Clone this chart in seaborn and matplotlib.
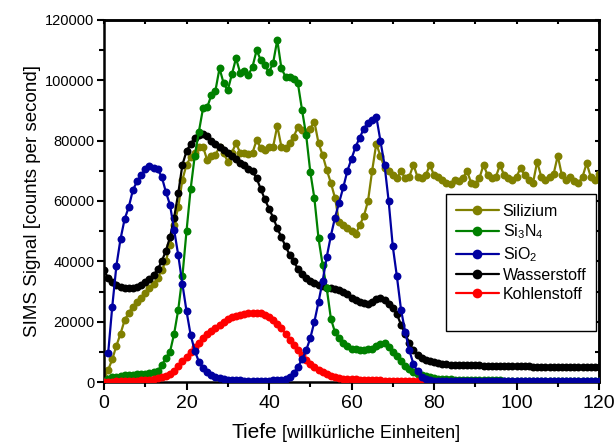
import numpy as np
import pandas as pd
import matplotlib
matplotlib.use('Agg')
import matplotlib.pyplot as plt
from matplotlib.lines import Line2D
import seaborn as sns

# DADOS - SINAL SIMS POR PROFUNDIDADE
tiefe = list(range(121))

silizium = [1800, 4000, 7500, 12000, 16000, 20500, 23000, 25000, 26500, 28000,
            29500, 31000, 32500, 34500, 37000, 40000, 45500, 52000, 58000, 67000,
            72000, 74500, 76000, 78000, 78000, 73600, 75000, 75200, 78000, 76000,
            73000, 76000, 79200, 76000, 75900, 75500, 76000, 80200, 77500, 77000,
            78000, 78000, 84900, 78000, 77500, 79200, 81300, 84600, 83500, 83000,
            84000, 86300, 79200, 75200, 70300, 66000, 61000, 53000, 52000, 51000,
            50000, 49000, 52000, 55000, 60000, 70000, 79000, 75000, 71000, 70000,
            68500, 67500, 70000, 67500, 68000, 72000, 68000, 67500, 68500, 72000,
            68500, 68000, 67000, 66000, 65500, 67000, 66500, 67500, 70000, 66000,
            65500, 67500, 72000, 68500, 67500, 68000, 72000, 68500, 67500, 67000,
            68000, 71000, 68500, 67000, 66000, 73000, 68000, 67000, 68000, 69000,
            75000, 68500, 67000, 68000, 66500, 66000, 68000, 72500, 68000, 67000, 69000]

si3n4 = [500, 1000, 1500, 1800, 2000, 2200, 2300, 2400, 2500, 2600,
         2800, 3000, 3300, 3800, 5500, 8000, 10000, 16000, 24000, 35000,
         50000, 64000, 75000, 83000, 90700, 91000, 95000, 96500, 104000, 99000,
         96700, 102000, 107300, 102500, 103000, 101800, 104500, 110000, 106700, 105000,
         102700, 105800, 113400, 104000, 101200, 101200, 100500, 99000, 90200, 81900,
         69700, 60900, 47600, 38800, 31000, 21000, 16500, 14500, 13000, 12000,
         11000, 10800, 10500, 10500, 10800, 11000, 11800, 12500, 12800, 11500,
         10000, 8500, 6800, 5300, 4200, 3400, 2800, 2300, 1900, 1600,
         1300, 1100, 1000, 900, 850, 800, 750, 700, 700, 650,
         650, 600, 600, 600, 550, 550, 550, 500, 500, 500,
         500, 500, 450, 450, 450, 450, 400, 400, 400, 400,
         400, 400, 350, 350, 350, 350, 350, 300, 300, 300, 300]

sio2 = [np.nan, 9500, 25000, 38500, 47400, 54000, 58000, 63600, 66500, 68500,
        70500, 71500, 71000, 70500, 68000, 63000, 58700, 50400, 42000, 32500,
        23500, 15600, 10400, 6700, 4600, 3200, 2300, 1700, 1300, 1000,
        800, 700, 600, 600, 500, 500, 500, 500, 500, 500,
        500, 600, 700, 800, 1000, 1800, 3000, 5000, 7500, 10500,
        14500, 20000, 26500, 33500, 41500, 48500, 54500, 59500, 64500, 70000,
        74000, 78000, 81000, 84000, 86000, 87000, 88000, 80000, 72000, 60000,
        45000, 35000, 24000, 16700, 10600, 6000, 3500, 1800, 1000, 700,
        500, 500, 500, 500, 500, 450, 450, 450, 450, 450,
        400, 400, 400, 400, 400, 400, 400, 400, 400, 400,
        350, 350, 350, 350, 350, 350, 350, 350, 350, 350,
        300, 300, 300, 300, 300, 300, 300, 300, 300, 300, 300]

wasserstoff = [37000, 34500, 33000, 32000, 31500, 31200, 31000, 31000, 31500, 32200,
               33200, 34200, 35500, 37300, 40000, 43500, 48000, 54500, 62600, 72000,
               76500, 79000, 80800, 82000, 82200, 81500, 80000, 79000, 77800, 77000,
               76000, 75000, 74000, 72500, 71800, 70500, 69800, 67500, 64000, 60500,
               57500, 54500, 51000, 48000, 45000, 42200, 40000, 37500, 35800, 34500,
               33500, 32800, 32300, 31800, 31300, 31000, 30800, 30500, 30000, 29300,
               28000, 27300, 26500, 26200, 26000, 26500, 27500, 27800, 27300, 26000,
               24400, 22500, 19000, 16000, 13000, 10500, 9000, 8000, 7300, 6800,
               6500, 6300, 6100, 6000, 5800, 5700, 5600, 5600, 5600, 5500,
               5500, 5500, 5400, 5400, 5400, 5300, 5300, 5300, 5300, 5200,
               5200, 5200, 5200, 5200, 5100, 5100, 5100, 5100, 5100, 5100,
               5000, 5000, 5000, 5000, 5000, 5000, 5000, 5000, 5000, 5000, 5000]

kohlenstoff = [0, 100, 150, 200, 250, 300, 300, 400, 500, 600,
               700, 800, 900, 1200, 1500, 2000, 2800, 3800, 5200, 6800,
               8400, 10000, 11500, 13000, 14500, 15800, 17000, 18000, 19000, 20000,
               20800, 21400, 21900, 22300, 22600, 22800, 23000, 23000, 22800, 22300,
               21400, 20500, 19200, 17800, 16000, 14000, 12200, 10600, 9000, 7300,
               6000, 5000, 4000, 3200, 2600, 2100, 1700, 1400, 1100, 1000,
               900, 850, 800, 750, 700, 650, 600, 550, 500, 450,
               400, 350, 300, 300, 250, 200, 200, 150, 100, 100,
               100, 100, 100, 100, 100, 100, 100, 100, 100, 100,
               100, 100, 100, 100, 100, 100, 100, 100, 100, 100,
               100, 100, 100, 100, 100, 100, 100, 100, 100, 100,
               100, 100, 100, 100, 100, 100, 100, 100, 100, 100, 100]

nomes = ['Silizium', r'Si$_3$N$_4$', r'SiO$_2$', 'Wasserstoff', 'Kohlenstoff']
cores = ['#808000', '#008000', '#0000A0', '#000000', '#FF0000']
series = [silizium, si3n4, sio2, wasserstoff, kohlenstoff]
ordem_z = [2, 4, 6, 3, 5]

# ESTILO
sns.set_theme(style='ticks')
plt.rcParams['font.family'] = ['Liberation Sans', 'DejaVu Sans']
plt.rcParams['mathtext.default'] = 'regular'
for chave in ['text.color', 'axes.labelcolor', 'xtick.color', 'ytick.color', 'axes.edgecolor']:
    plt.rcParams[chave] = 'black'

fig, ax = plt.subplots(figsize=(6.14, 4.48), dpi=100)
fig.subplots_adjust(left=0.1694, right=0.9756, bottom=0.1473, top=0.9554)

# GRÁFICO DE LINHAS COM MARCADORES
handles = []
for nome, cor, valores, z in zip(nomes, cores, series, ordem_z):
    df = pd.DataFrame({'Tiefe': tiefe, 'Signal': valores}).dropna()
    sns.lineplot(x='Tiefe', y='Signal', data=df, color=cor, marker='o', markersize=5.7,
                 markeredgewidth=0, linewidth=1.6, errorbar=None, sort=False, zorder=z, ax=ax)
    handles.append(Line2D([], [], color=cor, marker='o', markersize=7, markeredgewidth=0,
                          linewidth=1.6, label=nome))
handles.append(Line2D([], [], linestyle='none', label=' '))

ax.set_xlim(0, 120)
ax.set_ylim(0, 120000)
ax.set_xticks(range(0, 121, 20))
ax.set_xticks(range(0, 121, 10), minor=True)
ax.set_yticks(range(0, 120001, 20000))
ax.set_yticks(range(0, 120001, 10000), minor=True)
ax.tick_params(axis='x', which='major', direction='out', length=6, width=1.5, labelsize=14, pad=3)
ax.tick_params(axis='y', which='major', direction='out', length=5, width=1.5, labelsize=10.5, pad=2)
ax.tick_params(which='minor', direction='out', length=3.5, width=1.5)

# eixos de cima e da direita só com ticks para dentro
topo = ax.secondary_xaxis('top')
topo.set_xticks(range(0, 121, 10))
topo.tick_params(direction='in', length=3, width=1.5, labeltop=False)
direita = ax.secondary_yaxis('right')
direita.set_yticks(range(0, 120001, 10000))
direita.tick_params(direction='in', length=3, width=1.5, labelright=False)
for eixo in [ax, topo, direita]:
    for s in eixo.spines.values():
        s.set_linewidth(1.8)
        s.set_color('black')

ax.set_xlabel('')
ax.set_ylabel('SIMS Signal [counts per second]', fontsize=13.5, labelpad=3)
ax.text(0.349, -0.155, 'Tiefe', transform=ax.transAxes, ha='right', va='baseline', fontsize=15)
ax.text(0.359, -0.155, '[willkürliche Einheiten]', transform=ax.transAxes, ha='left', va='baseline', fontsize=13)

leg = ax.legend(handles=handles, loc='upper right', bbox_to_anchor=(0.994, 0.519), fontsize=11.5,
                frameon=True, fancybox=False, edgecolor='black', framealpha=1, borderpad=0.6,
                labelspacing=0.25, handlelength=2.7, handletextpad=0.25, borderaxespad=0)
leg.get_frame().set_linewidth(1.0)

plt.savefig('out.png', dpi=100)
